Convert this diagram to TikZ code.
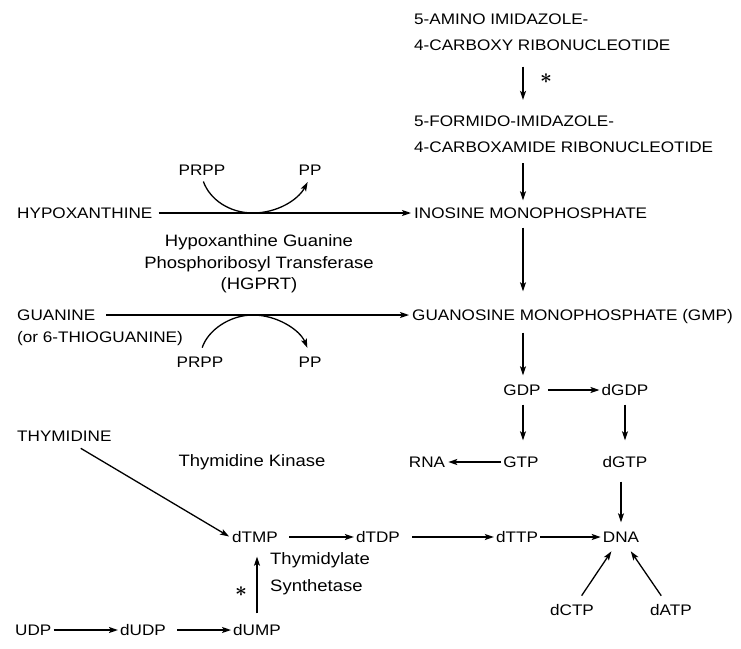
\documentclass[tikz,border=0pt]{standalone}
\usepackage{fontspec}
\setmainfont[FakeStretch=1.12]{Liberation Sans}
\usetikzlibrary{arrows.meta}
\begin{document}
\begin{tikzpicture}[x=1pt,y=-1pt,
  lbl/.style={inner sep=2pt, text height=11pt, text depth=0pt, font=\fontsize{15.3}{26}\selectfont},
  lbl2/.style={inner sep=2pt, align=left, font=\fontsize{15.3}{26}\selectfont},
  enz/.style={inner sep=2pt, font=\fontsize{16.5}{21.5}\selectfont},
  star/.style={inner sep=0pt, font=\fontsize{22}{22}\selectfont\boldmath},
  arr/.style={-{Stealth[length=9pt,width=6pt,inset=2pt]}, line width=1.3pt},
  ln/.style={line width=1.3pt}]
\useasboundingbox (0,0) rectangle (741,648);
\coordinate (col) at (523,0);
% top column
\node[lbl2, anchor=west] (aicar) at (412,32) {5-AMINO IMIDAZOLE-\\4-CARBOXY RIBONUCLEOTIDE};
\node[lbl2, anchor=west] (faicar) at (412,134.5) {5-FORMIDO-IMIDAZOLE-\\4-CARBOXAMIDE RIBONUCLEOTIDE};
\node[star] (s1) at (546,79) {$\ast$};
\node[lbl, anchor=west] (imp) at (412,213) {INOSINE MONOPHOSPHATE};
\node[lbl, anchor=west] (gmp) at (410,315) {GUANOSINE MONOPHOSPHATE (GMP)};
\draw[arr, shorten <=14pt, shorten >=14pt] (aicar.south -| col) -- (faicar.north -| col);
\draw[arr, shorten <=8pt, shorten >=5pt] (faicar.south -| col) -- (imp.north -| col);
\draw[arr, shorten <=7pt, shorten >=16pt] (imp.south -| col) -- (gmp.north -| col);
% hypoxanthine
\node[lbl, anchor=west] (hyp) at (15,213) {HYPOXANTHINE};
\draw[arr, shorten <=4pt, shorten >=1pt] (hyp.east) -- (imp.west);
\node[lbl] (prppA) at (202,170) {PRPP};
\node[lbl] (ppA) at (310,170) {PP};
\coordinate (tA) at (253,213);
\draw[arr, shorten <=4pt, shorten >=5pt] (prppA.south) .. controls (210,200) and (230,213) .. (tA)
   .. controls (277,213) and (298,200) .. (ppA.south);
\node[enz, align=center] (hgprt) at (259,264) {Hypoxanthine Guanine\\Phosphoribosyl Transferase\\(HGPRT)};
% guanine
\node[lbl, anchor=west] (gua) at (15,315) {GUANINE};
\node[lbl, anchor=west] (thio) at (15,337) {(or 6-THIOGUANINE)};
\draw[arr, shorten <=9pt, shorten >=1pt] (gua.east) -- (gmp.west);
\node[lbl] (prppB) at (200,362) {PRPP};
\node[lbl] (ppB) at (310,362) {PP};
\coordinate (tB) at (253,315);
\draw[arr, shorten <=7pt, shorten >=7pt] (prppB.north) .. controls (208,330) and (230,315) .. (tB)
   .. controls (277,315) and (300,330) .. (ppB.north);
% GMP down
\node[lbl] (gdp) at (522,390) {GDP};
\node[lbl] (dgdp) at (625,390) {dGDP};
\node[lbl] (gtp) at (521,462) {GTP};
\node[lbl] (rna) at (427,462) {RNA};
\node[lbl] (dgtp) at (625,462) {dGTP};
\draw[arr, shorten <=10pt, shorten >=7pt] (gmp.south -| col) -- (gdp.north -| col);
\draw[arr, shorten <=5pt] (gdp.east) -- (dgdp.west);
\draw[arr, shorten <=7pt, shorten >=14pt] (gdp.south -| col) -- (gtp.north -| col);
\draw[arr, shorten <=7pt, shorten >=14pt] (dgdp.south) -- (dgtp.north);
\draw[arr, shorten >=1pt] (gtp.west) -- (rna.east);
% thymidine
\node[lbl, anchor=west] (thy) at (15,436) {THYMIDINE};
\node[enz] (tk) at (252,462) {Thymidine Kinase};
\node[lbl] (dtmp) at (255,537) {dTMP};
\node[lbl] (dtdp) at (378,537) {dTDP};
\node[lbl] (dttp) at (517,537) {dTTP};
\node[lbl] (dna) at (621,537) {DNA};
\node[lbl] (dctp) at (572,610) {dCTP};
\node[lbl] (datp) at (671,610) {dATP};
\coordinate (thyc) at (73,0);
\draw[arr, shorten <=9pt, shorten >=1pt] (thy.south -| thyc) -- (dtmp.west);
\draw[arr, shorten <=9pt] (dtmp.east) -- (dtdp.west);
\draw[arr, shorten <=10pt] (dtdp.east) -- (dttp.west);
\draw[arr] (dttp.east) -- (dna.west);
\draw[arr, shorten <=12pt, shorten >=7pt] (dgtp.south -| dna) -- (dna.north);
\draw[arr, shorten <=8pt, shorten >=8pt] (dctp) -- (dna);
\draw[arr, shorten <=8pt, shorten >=8pt] (datp) -- (dna);
% UDP row
\node[lbl, anchor=west] (udp) at (13,630) {UDP};
\node[lbl] (dudp) at (143,630) {dUDP};
\node[lbl] (dump) at (257,630) {dUMP};
\draw[arr] (udp.east) -- (dudp.west);
\draw[arr, shorten <=9pt] (dudp.east) -- (dump.west);
\draw[arr, shorten <=9pt, shorten >=12pt] (dump.north) -- (dtmp.south -| dump);
\node[enz, anchor=west, align=left, font=\fontsize{16.5}{27}\selectfont] (ts) at (268,573.5) {Thymidylate\\Synthetase};
\node[star] (s2) at (241,592) {$\ast$};
\end{tikzpicture}
\end{document}
